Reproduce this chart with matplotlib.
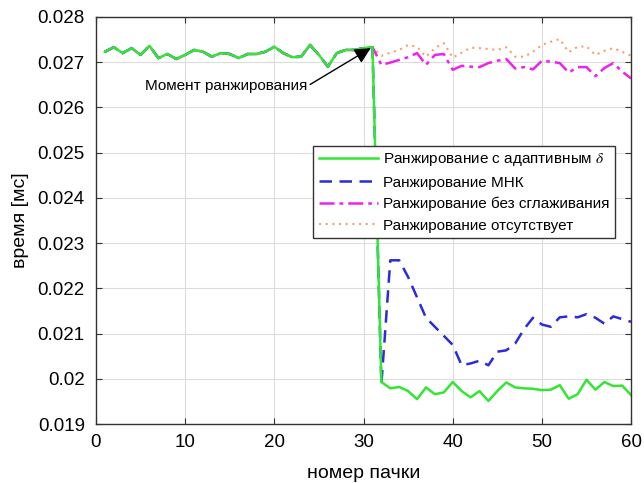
import numpy as np
import matplotlib
matplotlib.use("Agg")
import matplotlib.pyplot as plt

plt.rcParams['font.family'] = ['Liberation Sans', 'DejaVu Sans']
plt.rcParams['mathtext.fontset'] = 'stix'

# common part (x = 1..31), identical for all methods
common = [0.02723, 0.02733, 0.02720, 0.02731, 0.02716, 0.02736, 0.02709, 0.02718,
          0.02707, 0.02716, 0.02727, 0.02723, 0.02712, 0.02720, 0.02718, 0.02709,
          0.02718, 0.02718, 0.02723, 0.02734, 0.02720, 0.02711, 0.02712, 0.02738,
          0.02716, 0.02690, 0.02720, 0.02727, 0.02727, 0.02731, 0.02733]

# x = 32..60
adaptive_tail = [0.01993, 0.01979, 0.01982, 0.01973, 0.01955, 0.01981, 0.01966, 0.01970,
                 0.01993, 0.01973, 0.01959, 0.01973, 0.01951, 0.01973, 0.01992, 0.01981,
                 0.01979, 0.01978, 0.01975, 0.01976, 0.01986, 0.01956, 0.01966, 0.01998,
                 0.01976, 0.01993, 0.01984, 0.01985, 0.01964]
mnk_tail = [0.01988, 0.02262, 0.02262, 0.02225, 0.02180, 0.02135, 0.02115, 0.02095,
            0.02075, 0.02030, 0.02034, 0.02040, 0.02030, 0.02060, 0.02063, 0.02078,
            0.02110, 0.02135, 0.02120, 0.02115, 0.02136, 0.02138, 0.02136, 0.02143,
            0.02135, 0.02122, 0.02138, 0.02132, 0.02126]
nosmooth_tail = [0.02694, 0.02699, 0.02705, 0.02711, 0.02720, 0.02694, 0.02716, 0.02718,
                 0.02683, 0.02692, 0.02690, 0.02689, 0.02698, 0.02703, 0.02707, 0.02686,
                 0.02689, 0.02684, 0.02703, 0.02701, 0.02698, 0.02677, 0.02689, 0.02689,
                 0.02669, 0.02687, 0.02698, 0.02679, 0.02664]
none_tail = [0.02714, 0.02721, 0.02727, 0.02738, 0.02734, 0.02712, 0.02731, 0.02742,
             0.02710, 0.02721, 0.02732, 0.02731, 0.02729, 0.02727, 0.02733, 0.02712,
             0.02712, 0.02723, 0.02738, 0.02745, 0.02751, 0.02722, 0.02734, 0.02735,
             0.02716, 0.02725, 0.02731, 0.02723, 0.02714]

labels = ['Ранжирование с адаптивным $\\delta$', 'Ранжирование МНК',
          'Ранжирование без сглаживания', 'Ранжирование отсутствует']
xlabel = 'номер пачки'
ylabel = 'время [мс]'
annot_text = 'Момент ранжирования'
xticks = [0, 10, 20, 30, 40, 50, 60]
yticks = [0.019, 0.020, 0.021, 0.022, 0.023, 0.024, 0.025, 0.026, 0.027, 0.028]
ytick_labels = ['0.019', '0.02', '0.021', '0.022', '0.023', '0.024', '0.025',
                '0.026', '0.027', '0.028']

x = np.arange(1, 61)
series = [common + t for t in (adaptive_tail, mnk_tail, nosmooth_tail, none_tail)]

fig = plt.figure(figsize=(6.44, 4.83), dpi=100)
ax = fig.add_axes([0.149, 0.122, 0.831, 0.843])

styles = [dict(color='#33e633', ls='-', lw=1.8),
          dict(color='#2b2bd9', ls=(0, (5, 3)), lw=1.8),
          dict(color='#ee22ee', ls=(0, (6, 2, 1.5, 2)), lw=1.8),
          dict(color='#f5a070', ls=(0, (1, 2.2)), lw=1.5)]
order = [3, 2, 1, 0]
handles = [None] * 4
for i in order:
    h, = ax.plot(x, series[i], label=labels[i], **styles[i])
    handles[i] = h

ax.set_xlim(0, 60)
ax.set_ylim(0.019, 0.028)
ax.set_xticks(xticks)
ax.set_yticks(yticks)
ax.set_yticklabels(ytick_labels)
ax.grid(True, color='#dcdcdc', lw=0.8)
ax.set_axisbelow(True)
ax.tick_params(direction='in', top=True, right=True, labelsize=13.5, length=4,
               color='#333333')
ax.tick_params(axis='x', pad=7)
ax.tick_params(axis='y', pad=8)
for s in ax.spines.values():
    s.set_color('#333333')
    s.set_linewidth(1.0)
ax.set_xlabel(xlabel, fontsize=14, labelpad=10)
ax.set_ylabel(ylabel, fontsize=14, labelpad=6)

ax.annotate(annot_text, xy=(30.8, 0.02731), xytext=(23.7, 0.02647),
            ha='right', va='center', fontsize=11,
            arrowprops=dict(arrowstyle='-|>', color='black', lw=1.0,
                            mutation_scale=24, shrinkA=0, shrinkB=0,
                            relpos=(1.0, 0.5)))

leg = ax.legend(handles=handles, loc='upper left', bbox_to_anchor=(0.406, 0.683),
                fontsize=11, frameon=True, fancybox=False, handlelength=3.9,
                borderpad=0.35, labelspacing=0.48, handletextpad=0.3,
                borderaxespad=0)
leg.get_frame().set_edgecolor('#333333')
leg.get_frame().set_linewidth(1.0)
leg.get_frame().set_alpha(1)

fig.savefig('out.png', dpi=100)
